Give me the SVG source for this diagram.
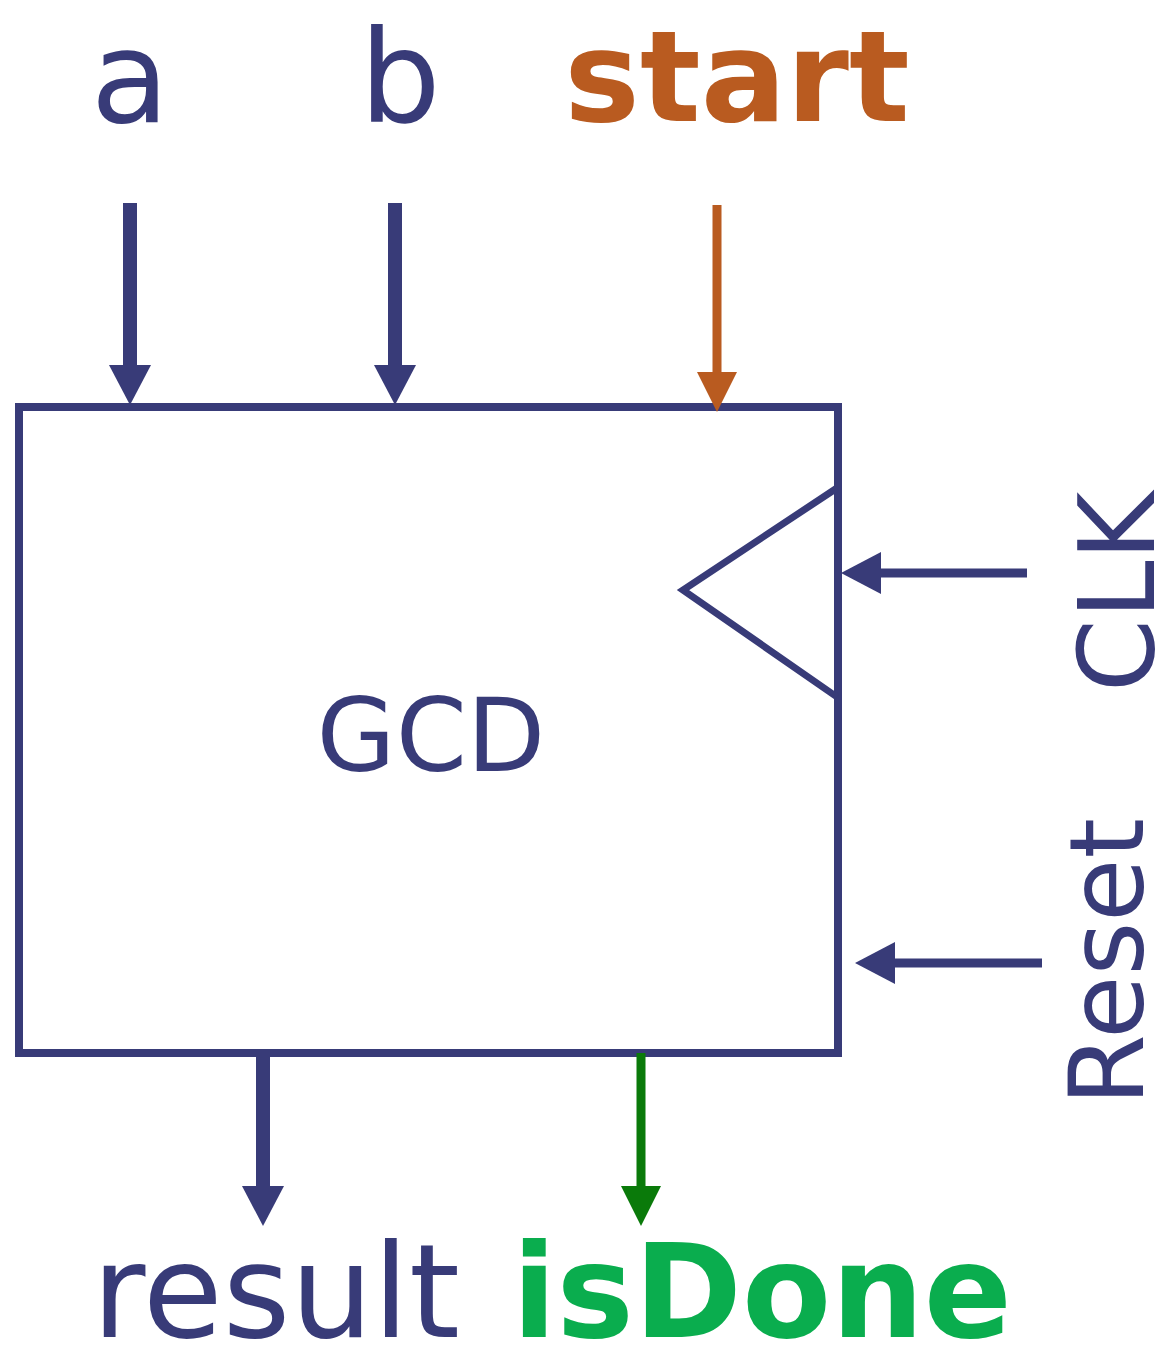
<svg xmlns="http://www.w3.org/2000/svg" width="1169" height="1349" viewBox="0 0 1169 1349">
<style>
.blue{fill:#383b78}
.t{font-family:"DejaVu Sans","Liberation Sans",sans-serif}
.b{font-weight:bold}
.wire{fill:none;stroke-linecap:butt}
</style>
<defs>
<marker id="hb" markerUnits="userSpaceOnUse" viewBox="0 0 40 42" refX="1" refY="21" markerWidth="40" markerHeight="42" orient="auto"><path d="M0,0 L40,21 L0,42 z" fill="#383b78"/></marker>
<marker id="ho" markerUnits="userSpaceOnUse" viewBox="0 0 40 40" refX="1" refY="20" markerWidth="40" markerHeight="40" orient="auto"><path d="M0,0 L40,20 L0,40 z" fill="#b95b20"/></marker>
<marker id="hg" markerUnits="userSpaceOnUse" viewBox="0 0 40 40" refX="1" refY="20" markerWidth="40" markerHeight="40" orient="auto"><path d="M0,0 L40,20 L0,40 z" fill="#0a7a0a"/></marker>
</defs>
<rect width="1169" height="1349" fill="#ffffff"/>
<g id="gcd">
<rect x="19" y="407" width="819" height="646" fill="none" stroke="#383b78" stroke-width="8"/>
<polyline points="837,488 683,590 837,697" fill="none" stroke="#383b78" stroke-width="7"/>
<text class="t blue" x="431" y="771" font-size="102" text-anchor="middle">GCD</text>
</g>
<g id="connectors">
<line class="wire" x1="130" y1="203" x2="130" y2="366" stroke="#383b78" stroke-width="14" marker-end="url(#hb)"/>
<line class="wire" x1="395" y1="203" x2="395" y2="366" stroke="#383b78" stroke-width="14" marker-end="url(#hb)"/>
<line class="wire" x1="717" y1="205" x2="717" y2="373" stroke="#b95b20" stroke-width="9" marker-end="url(#ho)"/>
<line class="wire" x1="1027" y1="573" x2="880" y2="573" stroke="#383b78" stroke-width="9" marker-end="url(#hb)"/>
<line class="wire" x1="1042" y1="963" x2="894" y2="963" stroke="#383b78" stroke-width="9" marker-end="url(#hb)"/>
<line class="wire" x1="263" y1="1053" x2="263" y2="1187" stroke="#383b78" stroke-width="14" marker-end="url(#hb)"/>
<line class="wire" x1="641" y1="1053" x2="641" y2="1187" stroke="#0a7a0a" stroke-width="9" marker-end="url(#hg)"/>
</g>
<g id="label-a"><text class="t blue" x="130" y="122" font-size="128" text-anchor="middle">a</text></g>
<g id="label-b"><text class="t blue" x="400" y="122" font-size="128" text-anchor="middle">b</text></g>
<g id="label-start"><text class="t b" x="737" y="121" font-size="127" text-anchor="middle" fill="#b95b20">start</text></g>
<g id="label-clk"><text class="t blue" transform="translate(1154,592) rotate(-90)" font-size="105" text-anchor="middle">CLK</text></g>
<g id="label-reset"><text class="t blue" transform="translate(1143,962) rotate(-90)" font-size="103" text-anchor="middle">Reset</text></g>
<g id="label-result"><text class="t blue" x="276" y="1337" font-size="130" text-anchor="middle">result</text></g>
<g id="label-isdone"><text class="t b" x="762" y="1337" font-size="130" text-anchor="middle" fill="#0aad4e">isDone</text></g>
</svg>
